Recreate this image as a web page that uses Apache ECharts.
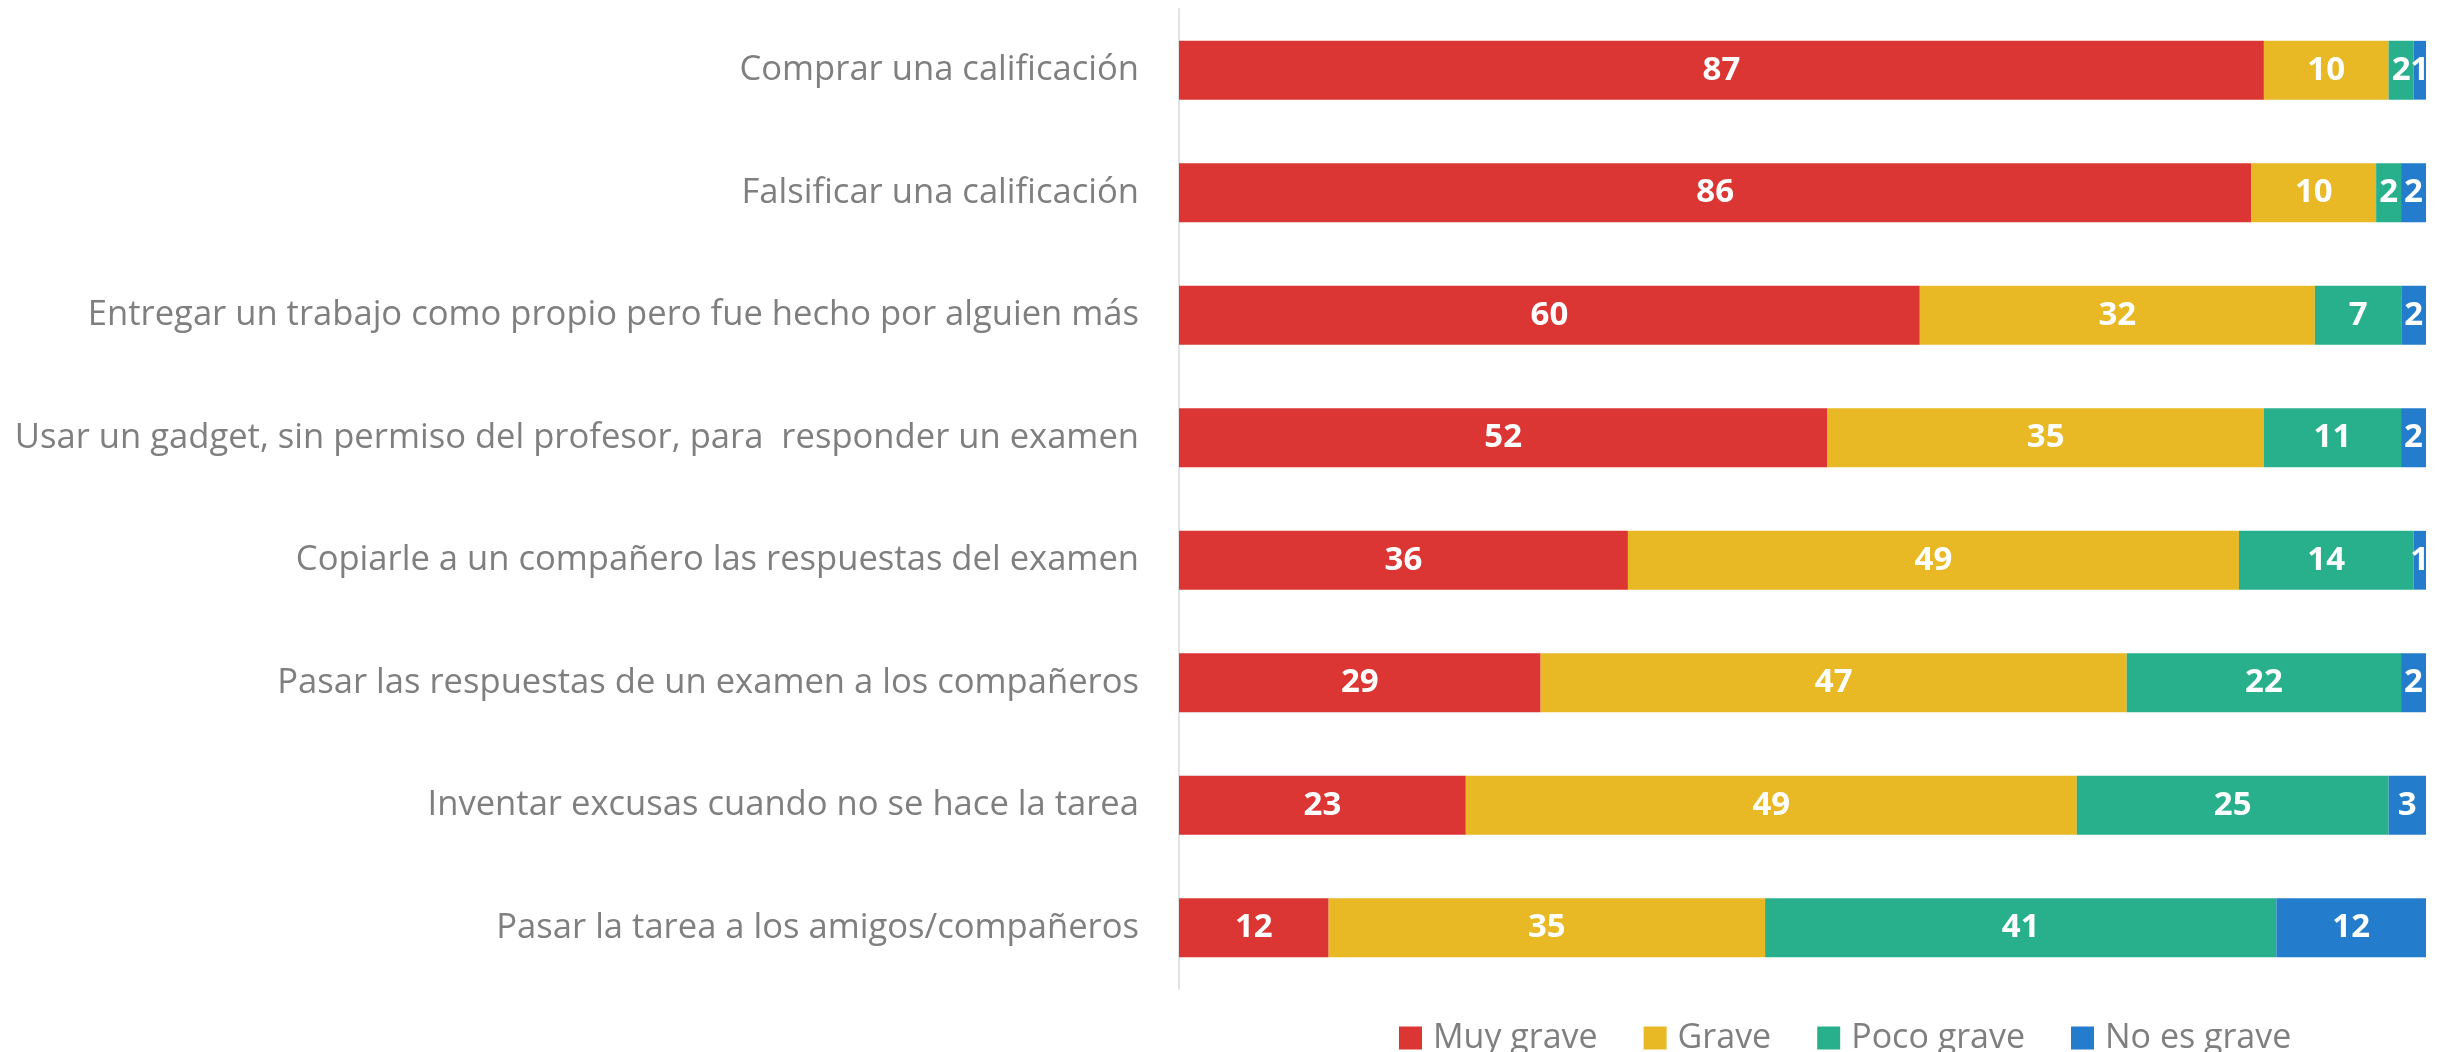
<!DOCTYPE html>
<html>
<head>
<meta charset="utf-8">
<script src="https://cdn.jsdelivr.net/npm/echarts@6/dist/echarts.min.js"></script>
<style>
html,body{margin:0;padding:0;background:#fff;}
#chart{width:2448px;height:1052px;}
</style>
</head>
<body>
<div id="chart"></div>
<script>
const categories = [
  "Comprar una calificación",
  "Falsificar una calificación",
  "Entregar un trabajo como propio pero fue hecho por alguien más",
  "Usar un gadget, sin permiso del profesor, para  responder un examen",
  "Copiarle a un compañero las respuestas del examen",
  "Pasar las respuestas de un examen a los compañeros",
  "Inventar excusas cuando no se hace la tarea",
  "Pasar la tarea a los amigos/compañeros"
];
const seriesNames = ["Muy grave", "Grave", "Poco grave", "No es grave"];
const muyGrave  = [87, 86, 60, 52, 36, 29, 23, 12];
const grave     = [10, 10, 32, 35, 49, 47, 49, 35];
const pocoGrave = [2, 2, 7, 11, 14, 22, 25, 41];
const noEsGrave = [1, 2, 2, 2, 1, 2, 3, 12];
const colors = ["#DB3633", "#E9B825", "#28B08C", "#247DCC"];

const allValues = [muyGrave, grave, pocoGrave, noEsGrave];
const totals = categories.map((c, i) => allValues.reduce((s, arr) => s + arr[i], 0));

const FONT = "'Open Sans', 'Noto Sans', sans-serif";

const series = allValues.map((arr, si) => ({
  name: seriesNames[si],
  type: 'bar',
  stack: 'total',
  barCategoryGap: '52%',
  itemStyle: { color: colors[si] },
  data: arr.map((v, i) => v / totals[i] * 100),
  label: {
    show: true,
    position: 'inside',
    color: '#fff',
    fontFamily: FONT,
    fontWeight: 'bold',
    fontSize: 33,
    formatter: p => String(arr[p.dataIndex])
  }
}));

const chart = echarts.init(document.getElementById('chart'), null, {renderer: 'canvas'});
chart.setOption({
  animation: false,
  backgroundColor: '#fff',
  grid: { left: 1179, right: 22, top: 9, bottom: 63, containLabel: false },
  xAxis: {
    type: 'value', min: 0, max: 100,
    show: false,
    splitLine: { show: false }
  },
  yAxis: {
    type: 'category',
    inverse: true,
    data: categories,
    axisLine: { show: true, lineStyle: { color: '#E3E3E3', width: 2 } },
    axisTick: { show: false },
    axisLabel: { margin: 40, color: '#7F7F7F', fontFamily: FONT, fontSize: 34.6 }
  },
  legend: {
    data: seriesNames,
    left: 1394,
    top: 1013,
    icon: 'rect',
    itemWidth: 23,
    itemHeight: 23,
    itemGap: 46,
    textStyle: { color: '#7F7F7F', fontFamily: FONT, fontSize: 34, lineHeight: 40, padding: [0, 0, 0, 6] }
  },
  series: series
});
</script>
</body>
</html>
